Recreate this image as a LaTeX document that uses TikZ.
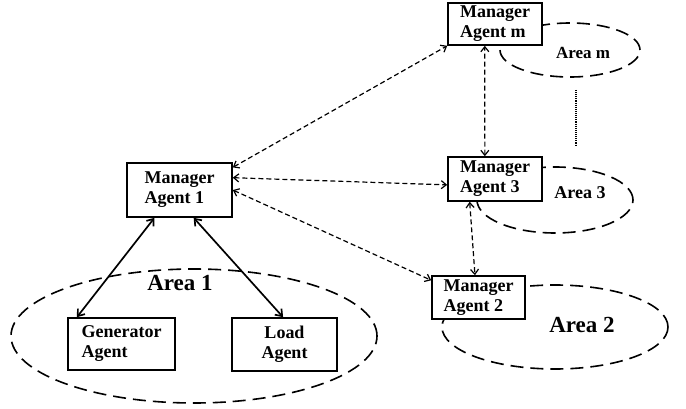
\documentclass[tikz,border=0pt]{standalone}
\usepackage{fontspec}
\setmainfont{Liberation Serif}
\usetikzlibrary{shapes.geometric,arrows.meta}
\begin{document}
\begin{tikzpicture}
    [
    x=1pt,y=-1pt,
    agent/.style={draw,line width=1.6pt,fill=white,align=left,inner sep=2pt,
      font=\bfseries\fontsize{18}{20}\selectfont},
    area/.style={ellipse,draw,line width=1.6pt,dash pattern=on 13pt off 7pt,inner sep=0pt},
    arealabel/.style={font=\bfseries\fontsize{18}{20}\selectfont},
    link/.style={line width=1.2pt,dash pattern=on 5pt off 3pt,
      {Straight Barb[length=5pt,width=8pt]}-{Straight Barb[length=5pt,width=8pt]}},
    ctrl/.style={line width=1.7pt,
      {Straight Barb[length=6pt,width=9pt]}-{Straight Barb[length=6pt,width=9pt]}}
    ]
    \useasboundingbox (0,0) rectangle (686,409);

    \node (a1) at (194,336) [area,minimum width=366pt,minimum height=134pt] {};
    \node (a2) at (555,327) [area,minimum width=226pt,minimum height=84pt] {};
    \node (a3) at (555,200) [area,minimum width=156pt,minimum height=66pt] {};
    \node (am) at (570,50) [area,minimum width=140pt,minimum height=54pt] {};

    \node (mgr1) at (179.5,190) [agent,minimum width=105pt,minimum height=54pt] {Manager\\Agent 1};
    \node (mgrm) at (495,24) [agent,minimum width=94pt,minimum height=42pt] {Manager\\Agent m};
    \node (mgr3) at (495,179) [agent,minimum width=94pt,minimum height=44pt] {Manager\\Agent 3};
    \node (mgr2) at (478.5,297.5) [agent,minimum width=93pt,minimum height=43pt] {Manager\\Agent 2};
    \node (gen) at (121.5,344) [agent,minimum width=107pt,minimum height=52pt] {Generator\\Agent};
    \node (load) at (284.5,344.5) [agent,align=center,minimum width=105pt,minimum height=53pt] {Load\\Agent};

    \node (l1) at (180,283) [arealabel,font=\bfseries\fontsize{23}{25}\selectfont] {Area 1};
    \node (l2) at (582,325) [arealabel,font=\bfseries\fontsize{23}{25}\selectfont] {Area 2};
    \node (l3) at (580,193) [arealabel] {Area 3};
    \node (lm) at (583,53) [arealabel,font=\bfseries\fontsize{17}{19}\selectfont] {Area m};

    \coordinate (dtop) at (576,90);
    \coordinate (dbot) at (576,145);
    \draw [line width=1.1pt,densely dotted] (dtop) -- (dbot);

    \draw [link] (mgr1.23) to (mgrm.south west);
    \draw [link] (mgr1.13) to (mgr3.187);
    \draw [link] (mgr1.east) to (mgr2.160);
    \draw [link] (mgr3.114) to (mgrm.245);
    \draw [link] (mgr3.222) to (mgr2.99);
    \draw [ctrl] (mgr1.228) to (gen.149);
    \draw [ctrl] (mgr1.297) to (load.93);
  \end{tikzpicture}
\end{document}
